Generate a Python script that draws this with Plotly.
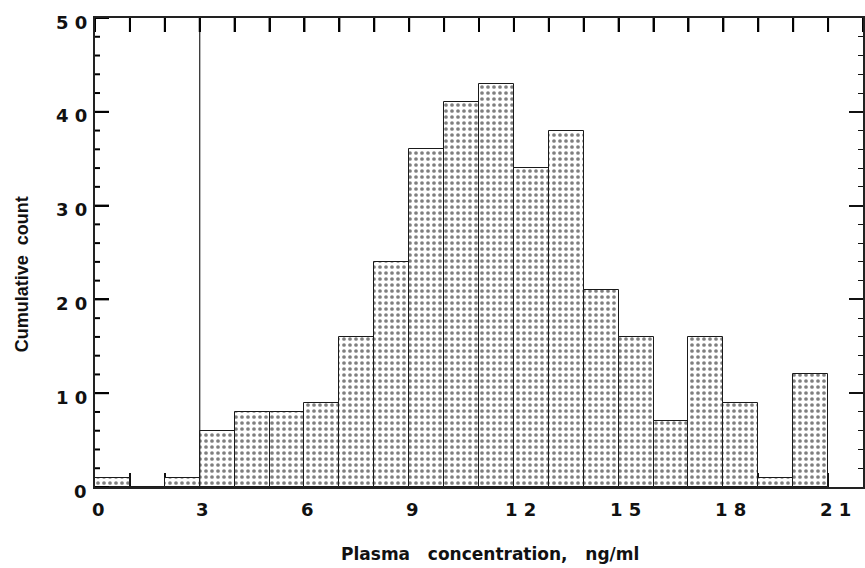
import plotly.graph_objects as go

# Data
bin_left = list(range(0, 21))
counts = [1, 0, 1, 6, 8, 8, 9, 16, 24, 36, 41, 43, 34, 38, 21, 16, 7, 16, 9, 1, 12]
x_ticks = [0, 3, 6, 9, 12, 15, 18, 21]
x_ticklabels = ["0", "3", "6", "9", "1 2", "1 5", "1 8", "2 1"]
x_top_ticks = list(range(0, 23))
y_ticks = [0, 10, 20, 30, 40, 50]
y_ticklabels = ["0", "1 0", "2 0", "3 0", "4 0", "5 0"]
y_minor_ticks = list(range(0, 51, 2))
threshold = 3
x_title = "Plasma   concentration,   ng/ml"
y_title = "Cumulative  count"

W, H = 865, 568
ML, MR, MT, MB = 95, 0, 18, 81
pw, ph = W - ML - MR, H - MT - MB

tickfont = dict(family="DejaVu Sans", size=18, color="#111", weight="bold")
tick_line = dict(color="#000", width=2)

fig = go.Figure()
fig.add_trace(go.Bar(
    x=[b + 0.5 for b in bin_left], y=counts, width=1,
    marker=dict(color="white", line=dict(color="#1a1a1a", width=1),
                pattern=dict(shape=".", size=6, solidity=0.3, fgcolor="#000", bgcolor="white")),
    showlegend=False,
))

fig.add_vline(x=threshold, line=dict(color="#222", width=1.2))

fig.update_layout(
    width=W, height=H,
    margin=dict(l=ML, r=MR, t=MT, b=MB, pad=0),
    paper_bgcolor="white", plot_bgcolor="white",
    bargap=0,
    xaxis=dict(range=[0, 22], tickvals=x_ticks, ticktext=["" for _ in x_ticks],
               ticks="inside", ticklen=14, tickwidth=1.5, tickcolor="#111",
               minor=dict(dtick=1, tick0=0, ticks="inside", ticklen=14, tickwidth=1.5, tickcolor="#111"),
               showline=True, linecolor="#222", linewidth=1.5, mirror="ticks", layer="below traces",
               showgrid=False, zeroline=False, tickfont=tickfont),
    yaxis=dict(range=[0, 50], tickvals=y_ticks, ticktext=["" for _ in y_ticks],
               ticks="inside", ticklen=14, tickwidth=1.5, tickcolor="#111",
               minor=dict(dtick=2, tick0=0, ticks="inside", ticklen=5, tickwidth=1.2, tickcolor="#111"),
               showline=True, linecolor="#222", linewidth=1.5, mirror="ticks", layer="below traces",
               showgrid=False, zeroline=False, tickfont=tickfont),
)

# top tick marks (inside), from the tick list
for v in x_top_ticks:
    fig.add_shape(type="line", xref="x", yref="paper", x0=v, x1=v,
                  ysizemode="pixel", yanchor=1, y0=0, y1=-14, line=tick_line, layer="above")
# left tick marks (inside): minor every 2, major every 10
for v in y_minor_ticks:
    fig.add_shape(type="line", yref="y", xref="paper", y0=v, y1=v,
                  xsizemode="pixel", xanchor=0, x0=0, x1=14 if v in y_ticks else 5,
                  line=tick_line, layer="above")

# x tick labels as text placed at the tick values
for v, t in zip(x_ticks, x_ticklabels):
    fig.add_annotation(text=t, xref="x", yref="paper", x=v, y=0,
                       xanchor="center", yanchor="top", yshift=-10,
                       xshift=3 if len(t) == 1 else 7,
                       showarrow=False, font=tickfont)
# y tick labels
for v, t in zip(y_ticks, y_ticklabels):
    fig.add_annotation(text=t, xref="paper", yref="y", x=0, y=v,
                       xanchor="right", yanchor="middle", xshift=-6, yshift=-4,
                       showarrow=False, font=tickfont)

fig.add_annotation(text=x_title, xref="paper", yref="paper",
                   x=(491.5 - ML) / pw, y=-(554 - (MT + ph)) / ph,
                   xanchor="center", yanchor="middle", showarrow=False,
                   font=dict(family="DejaVu Sans", size=17, color="#111", weight="bold"))
fig.add_annotation(text=y_title, xref="paper", yref="paper",
                   x=(22 - ML) / pw, y=(MT + ph - 274) / ph, textangle=-90,
                   xanchor="center", yanchor="middle", showarrow=False,
                   font=dict(family="Liberation Sans", size=18, color="#111", weight="bold"))

fig.write_html("out.html")
